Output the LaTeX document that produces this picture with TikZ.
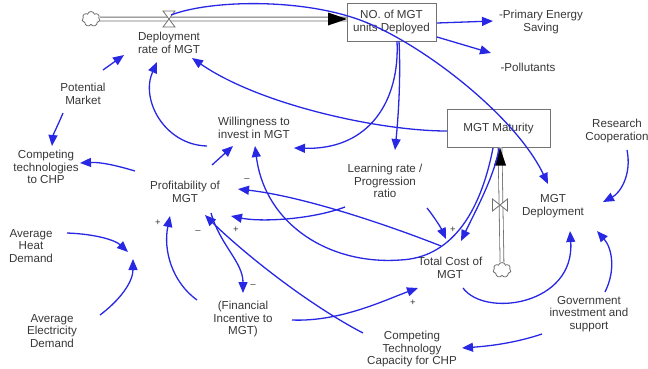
\documentclass[tikz,border=0pt]{standalone}
\usepackage{fontspec}
\setmainfont{Liberation Sans}
\usetikzlibrary{arrows.meta,shapes.symbols}
\definecolor{cblue}{RGB}{40,40,228}
\definecolor{ctext}{RGB}{55,55,55}
\definecolor{cbox}{RGB}{115,115,115}
\definecolor{cpipe}{RGB}{110,110,110}
\begin{document}
\begin{tikzpicture}[x=1pt,y=-1pt,
  lbl/.style={align=center, inner sep=0pt, text=ctext, font=\fontsize{11.6}{12.4}\selectfont},
  stockbox/.style={lbl, draw=cbox, line width=1pt, fill=white},
  link/.style={draw=cblue, line width=1.3pt, -{Triangle[length=11pt,width=9pt]}},
  pol/.style={text=ctext, font=\fontsize{9.5}{9.5}\selectfont, inner sep=0pt},
  pipe/.style={draw=cpipe, double=white, double distance=3pt, line width=0.8pt},
  cloudshape/.style={cloud, cloud puffs=7, draw=cpipe, fill=white, minimum width=18pt, minimum height=15pt, inner sep=0pt, line width=0.8pt},
  valveline/.style={draw=cpipe, fill=white, line width=0.8pt}
]
\useasboundingbox (0,0) rectangle (648,368);

% stock boxes
\node[stockbox, minimum width=89pt, minimum height=38pt] (noBox) at (391.5,22) {NO. of MGT\\units Deployed};
\node[stockbox, minimum width=103pt, minimum height=38pt] (mat) at (498.5,128) {MGT Maturity};

% clouds and valves
\node[cloudshape] (cloudA) at (91,19) {};
\node[cloudshape] (cloudB) at (502,270) {};
\coordinate (valveA) at (169,19);
\coordinate (valveB) at (500,205);

% pipes
\draw[pipe] (cloudA.east) -- ([shift={(-44.5,-3)}]noBox.center);
\draw[pipe] (cloudB.north) -- ([shift={(1.5,0)}]mat.south);
\fill[black] ([shift={(-44.5,-3)}]noBox.center) -- ++(-19,-6.5) -- ++(0,13) -- cycle;
\fill[black] ([shift={(1.5,0)}]mat.south) -- ++(-6,18) -- ++(12,0) -- cycle;
\draw[valveline] ([shift={(-6,-8)}]valveA) -- ([shift={(6,-8)}]valveA) -- ([shift={(-6,8)}]valveA) -- ([shift={(6,8)}]valveA) -- cycle;
\draw[valveline] ([shift={(-7.5,-6)}]valveB) -- ([shift={(-7.5,6)}]valveB) -- ([shift={(7.5,-6)}]valveB) -- ([shift={(7.5,6)}]valveB) -- cycle;

% variables
\node[lbl] (deprate) at (169,43) {Deployment\\rate of MGT};
\node[lbl] (pes) at (541,22) {-Primary Energy\\Saving};
\node[lbl] (poll) at (528,67) {-Pollutants};
\node[lbl] (research) at (617,131) {Research\\Cooperation};
\node[lbl] (mgtdep) at (553,206) {MGT\\Deployment};
\node[lbl] (potmkt) at (83,94) {Potential\\Market};
\node[lbl] (comptech) at (46,167) {Competing\\technologies\\to CHP};
\node[lbl] (prof) at (185,192) {Profitability of\\MGT};
\node[lbl] (will) at (254,128) {Willingness to\\invest in MGT};
\node[lbl] (learn) at (385,181) {Learning rate /\\Progression\\ratio};
\node[lbl] (tcost) at (450,268) {Total Cost of\\MGT};
\node[lbl] (heat) at (31,246) {Average\\Heat\\Demand};
\node[lbl] (elec) at (52,331) {Average\\Electricity\\Demand};
\node[lbl] (fin) at (243,319) {(Financial\\Incentive to\\MGT)};
\node[lbl] (ctcap) at (412,349) {Competing\\Technology\\Capacity for CHP};
\node[lbl] (gov) at (589,314) {Government\\investment and\\support};
\coordinate (hub) at (131,256);

% causal links
\draw[link] ([shift={(2,-4)}]valveA) .. controls (210,0) and (300,-2) .. (360,20) .. controls (420,42) and (515,115) .. ([shift={(-5,-22)}]mgtdep.center);
\draw[link] ([shift={(45.5,1)}]noBox.center) -- ([shift={(-48,-1)}]pes.center);
\draw[link] ([shift={(45.5,15)}]noBox.center) -- ([shift={(-37,-14)}]poll.center);
\draw[link] ([shift={(7.5,19)}]noBox.center) .. controls (401,80) and (398,120) .. ([shift={(10,-31)}]learn.center);
\draw[link] ([shift={(5.5,19)}]noBox.center) .. controls (400,100) and (370,150) .. ([shift={(40,20)}]will.center);
\draw[link] ([shift={(-51.5,3)}]mat.center) .. controls (380,131) and (260,105) .. ([shift={(23,15)}]deprate.center);
\draw[link] ([shift={(0.5,20)}]mat.center) .. controls (495,175) and (475,212) .. ([shift={(11,-27)}]tcost.center);
\draw[link] ([shift={(-5.5,20)}]mat.center) .. controls (480,215) and (450,258) .. (400,260) .. controls (330,265) and (265,225) .. ([shift={(1,18)}]will.center);
\draw[link] ([shift={(42,27)}]learn.center) .. controls (435,218) and (441,228) .. ([shift={(-4,-29)}]tcost.center);
\draw[link] ([shift={(-9,-22)}]tcost.center) .. controls (380,222) and (300,196) .. ([shift={(53,-3)}]prof.center);
\draw[link] ([shift={(-40,26)}]learn.center) .. controls (310,220) and (260,222) .. ([shift={(46,24)}]prof.center);
\draw[link] ([shift={(-49,-16)}]ctcap.center) .. controls (300,300) and (235,245) .. ([shift={(20,23)}]prof.center);
\draw[link] ([shift={(26,21)}]prof.center) .. controls (220,245) and (243,262) .. ([shift={(0,-26)}]fin.center);
\draw[link] ([shift={(49,1)}]fin.center) .. controls (340,322) and (385,300) .. ([shift={(-32,20)}]tcost.center);
\draw[link] ([shift={(-46,-19)}]fin.center) .. controls (172,282) and (163,250) .. ([shift={(-15,24)}]prof.center);
\draw[link] ([shift={(27,-27)}]prof.center) -- ([shift={(-21,18)}]will.center);
\draw[link] ([shift={(-47,18)}]will.center) .. controls (165,145) and (140,100) .. ([shift={(-12,19)}]deprate.center);
\draw[link] ([shift={(20,-24)}]potmkt.center) -- ([shift={(-45,12)}]deprate.center);
\draw[link] ([shift={(-20,19)}]potmkt.center) .. controls (58,125) and (53,135) .. ([shift={(6,-21)}]comptech.center);
\draw[link] ([shift={(-50,-21)}]prof.center) .. controls (115,165) and (100,162) .. ([shift={(34,-4)}]comptech.center);
\draw[link] ([shift={(36,-13)}]heat.center) .. controls (95,234) and (115,240) .. ([shift={(-3,-4)}]hub);
\draw[link] ([shift={(48,-16)}]elec.center) .. controls (120,300) and (133,282) .. ([shift={(2,3)}]hub);
\draw[link] ([shift={(13,20)}]tcost.center) .. controls (485,318) and (575,305) .. ([shift={(17,25)}]mgtdep.center);
\draw[link] ([shift={(16,-22)}]gov.center) .. controls (616,270) and (612,248) .. ([shift={(44,25)}]mgtdep.center);
\draw[link] ([shift={(-47,20)}]gov.center) .. controls (515,343) and (490,346) .. ([shift={(50,-1)}]ctcap.center);
\draw[link] ([shift={(10,19)}]research.center) .. controls (632,175) and (620,193) .. ([shift={(50,-4)}]mgtdep.center);

% polarity marks
\node[pol] (m1) at (247,180) {\textendash};
\node[pol] (m2) at (236,230) {+};
\node[pol] (m3) at (158,223) {+};
\node[pol] (m4) at (198,232) {\textendash};
\node[pol] (m5) at (253,286) {\textendash};
\node[pol] (m6) at (413,303) {+};
\node[pol] (m7) at (453,230) {+};
\end{tikzpicture}
\end{document}
